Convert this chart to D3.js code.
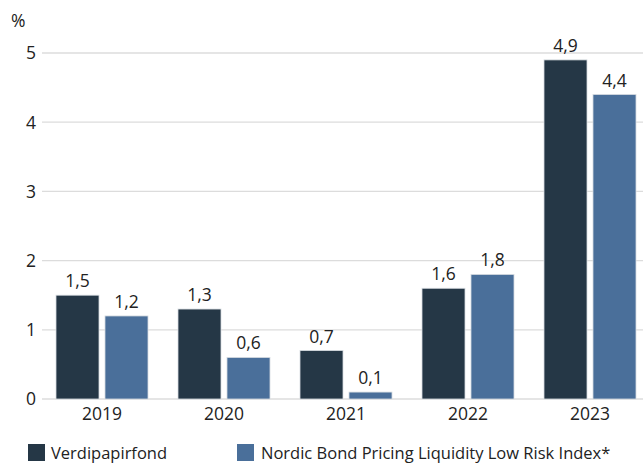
<!DOCTYPE html>
<html><head><meta charset="utf-8">
<script src="https://cdn.jsdelivr.net/npm/d3@7"></script>
<style>body{margin:0;background:#fff}svg{display:block;font-family:"Open Sans",Lato,sans-serif}</style>
</head><body>
<svg id="c" width="643" height="463"></svg>
<script>
const years = ["2019","2020","2021","2022","2023"];
const seriesNames = ["Verdipapirfond","Nordic Bond Pricing Liquidity Low Risk Index*"];
const verdipapirfond = [1.5,1.3,0.7,1.6,4.9];
const nordicIndex = [1.2,0.6,0.1,1.8,4.4];
const yTicks = [0,1,2,3,4,5];
const colors = ["#253746","#4a6f9a"];
const NUM = 17.5;

const svg = d3.select("#c");
const y = d3.scaleLinear().domain([0,5]).range([399,53]);
const x0 = d3.scaleBand().domain(years).range([41,651]).paddingInner(0.246).paddingOuter(0.123);
const x1 = d3.scaleBand().domain(seriesNames).range([0,x0.bandwidth()]).paddingInner(0.1224);

// grid
svg.append("g").selectAll("line").data(yTicks).join("line")
  .attr("x1",42).attr("x2",643).attr("y1",d=>y(d)).attr("y2",d=>y(d))
  .attr("stroke","#dcdcdc").attr("stroke-width",1.3);

// y labels
svg.append("g").selectAll("text").data(yTicks).join("text")
  .attr("x",36).attr("y",d=>y(d)).attr("dy","0.36em").attr("text-anchor","end")
  .attr("font-size",NUM).attr("fill","#222").text(d=>d);
svg.append("text").attr("x",11).attr("y",27).attr("font-size",NUM).attr("fill","#222").text("%");

const data = years.map((yr,i)=>({year:yr, vals:[verdipapirfond[i], nordicIndex[i]]}));
const g = svg.append("g").selectAll("g").data(data).join("g")
  .attr("transform",d=>`translate(${x0(d.year)},0)`);
g.selectAll("rect").data(d=>d.vals.map((v,j)=>({v,j}))).join("rect")
  .attr("x",d=>x1(seriesNames[d.j])).attr("width",x1.bandwidth())
  .attr("y",d=>y(d.v)).attr("height",d=>y(0)-y(d.v))
  .attr("fill",d=>colors[d.j]).attr("stroke","#d6dbe0").attr("stroke-width",0.8);
g.selectAll("text").data(d=>d.vals.map((v,j)=>({v,j}))).join("text")
  .attr("x",d=>x1(seriesNames[d.j])+x1.bandwidth()/2).attr("y",d=>y(d.v)-8)
  .attr("text-anchor","middle").attr("font-size",NUM).attr("fill","#222")
  .text(d=>d3.format(".1f")(d.v).replace(".",","));

// x labels
svg.append("g").selectAll("text").data(years).join("text")
  .attr("x",d=>x0(d)+x0.bandwidth()/2).attr("y",420).attr("text-anchor","middle")
  .attr("font-size",NUM).attr("fill","#222").text(d=>d);

// legend
const leg = [{x:28,tx:51},{x:237,tx:261}];
seriesNames.forEach((s,i)=>{
  svg.append("rect").attr("x",leg[i].x).attr("y",444).attr("width",17).attr("height",17).attr("fill",colors[i]);
  svg.append("text").attr("x",leg[i].tx).attr("y",459).attr("font-size",16.5).attr("fill","#222").text(s);
});
</script>
</body></html>
